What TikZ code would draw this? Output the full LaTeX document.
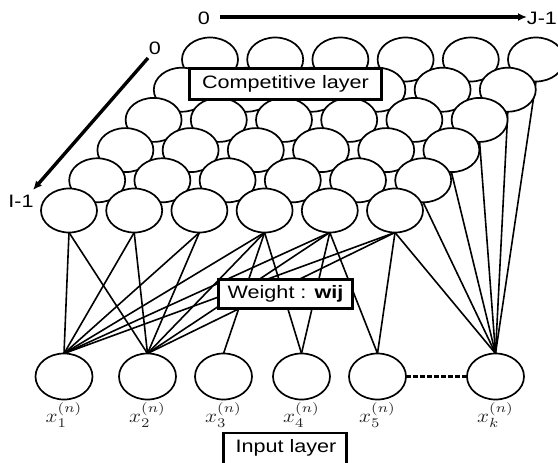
\documentclass[tikz,border=0pt]{standalone}
\usepackage{fontspec}
\setmainfont{Liberation Sans}
\usetikzlibrary{shapes.geometric,arrows.meta,backgrounds}
\begin{document}
\begin{tikzpicture}[x=1pt,y=-1pt,
  cell/.style={ellipse,draw,line width=1.7pt,fill=white,minimum width=56pt,minimum height=44pt,inner sep=0pt,outer sep=0pt},
  inp/.style={ellipse,draw,line width=1.7pt,fill=white,minimum width=57pt,minimum height=46pt,inner sep=0pt,outer sep=0pt},
  wire/.style={line width=1.6pt},
  lbox/.style={draw,line width=2.8pt,fill=white,inner sep=0pt,font=\fontsize{18}{20}\selectfont},
  axisarrow/.style={line width=3.4pt,-{Latex[length=9pt,width=8pt]}},
  lbl/.style={font=\fontsize{18}{20}\selectfont,inner sep=0pt},
  xlbl/.style={text=black!85,inner sep=0pt}
]
\useasboundingbox (0,0) rectangle (558,463);
\clip (0,0) rectangle (558,463);
% axes
\coordinate (ja) at (220,17);
\coordinate (jb) at (527,17);
\draw[axisarrow] (ja) -- (jb);
\node[lbl] (j0) at (204,18) {\scalebox{1.2}[1]{0}};
\node[lbl] (j1) at (542,18) {\scalebox{1.2}[1]{J-1}};
\coordinate (ia) at (148,58);
\coordinate (ib) at (33,190);
\draw[axisarrow] (ia) -- (ib);
\node[lbl] (i0) at (155,48) {\scalebox{1.2}[1]{0}};
\node[lbl] (i1) at (21,201) {\scalebox{1.2}[1]{I-1}};
% competitive layer grid
\foreach \r in {0,...,5}{
  \foreach \c in {0,...,5}{
    \node[cell] (c\r\c) at ({69+65.2*\c+28.2*(5-\r)},{210.5-30.2*(5-\r)}) {};
  }
}
% input layer
\node[inp] (x1) at (64,376.5) {};
\node[inp] (x2) at (147.5,376.5) {};
\node[inp] (x3) at (223.5,376.5) {};
\node[inp] (x4) at (301.5,376.5) {};
\node[inp] (x5) at (377.5,376.5) {};
\node[inp] (xk) at (495.5,376.5) {};
\draw[line width=2.6pt,dash pattern=on 5pt off 2pt] (x5.east) -- (xk.west);
\node[xlbl] (l1) at (64,415) {\scalebox{2.1}[1.9]{$x_1^{(n)}$}};
\node[xlbl] (l2) at (147.5,415) {\scalebox{2.1}[1.9]{$x_2^{(n)}$}};
\node[xlbl] (l3) at (223.5,415) {\scalebox{2.1}[1.9]{$x_3^{(n)}$}};
\node[xlbl] (l4) at (301.5,415) {\scalebox{2.1}[1.9]{$x_4^{(n)}$}};
\node[xlbl] (l5) at (377.5,415) {\scalebox{2.1}[1.9]{$x_5^{(n)}$}};
\node[xlbl] (lk) at (495.5,415) {\scalebox{2.1}[1.9]{$x_k^{(n)}$}};
% weights
\begin{scope}[on background layer]
  \foreach \c in {0,...,5}{
    \draw[wire] (c5\c.south) -- (x1.north);
    \draw[wire] (c5\c.south) -- (x2.north);
  }
  \draw[wire] (c53.south) -- (x3.north);
  \draw[wire] (c53.south) -- (x4.north);
  \draw[wire] (c54.south) -- (x4.north);
  \draw[wire] (c54.south) -- (x5.north);
  \draw[wire] (c55.south) -- (x5.north);
  \foreach \r in {0,...,5}{
    \draw[wire] (c\r5.south) -- (xk.north);
  }
\end{scope}
% labels in boxes
\node[lbox,minimum width=192pt,minimum height=31pt] (comp) at (285.5,84) {\scalebox{1.2}[1]{Competitive layer}};
\node[lbox,minimum width=134pt,minimum height=29pt] (wt) at (285.5,294) {\scalebox{1.2}[1]{Weight : \textbf{wij}}};
\node[lbox,minimum width=123pt,minimum height=44pt] (inl) at (285,455) {};
\node[lbl] (inltext) at (286,448) {\scalebox{1.2}[1]{Input layer}};
\end{tikzpicture}
\end{document}
